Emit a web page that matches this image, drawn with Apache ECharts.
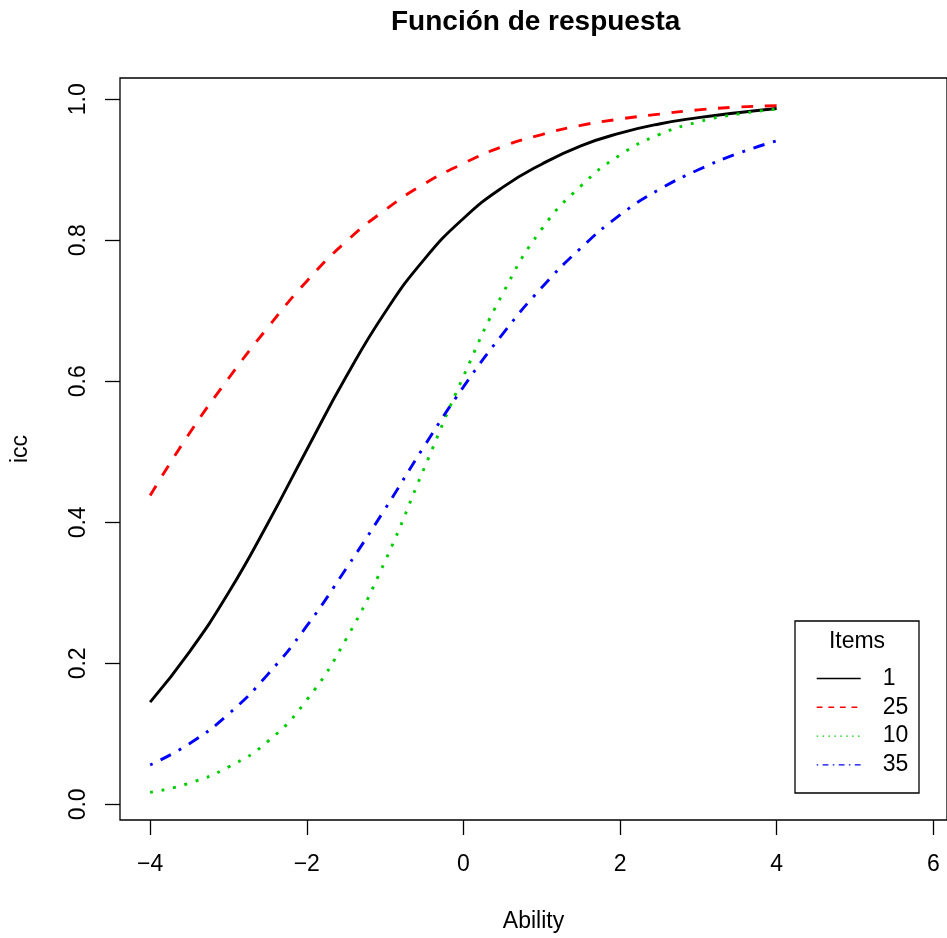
<!DOCTYPE html>
<html><head><meta charset="utf-8">
<script src="https://cdn.jsdelivr.net/npm/echarts@6/dist/echarts.min.js"></script>
<style>html,body{margin:0;padding:0;background:#fff}#c{width:947px;height:938px}</style>
</head><body><div id="c"></div>
<script>
// Ability values (x)
const theta = [-4, -3.5, -3, -2.5, -2, -1.5, -1, -0.5, 0, 0.5, 1, 1.5, 2, 2.5, 3, 3.5, 4];
// ICC values
const item1  = [0.145, 0.216, 0.300, 0.398, 0.503, 0.606, 0.698, 0.773, 0.831, 0.875, 0.908, 0.934, 0.952, 0.965, 0.974, 0.981, 0.987];
const item25 = [0.438, 0.526, 0.604, 0.676, 0.742, 0.798, 0.843, 0.880, 0.909, 0.933, 0.950, 0.963, 0.972, 0.979, 0.985, 0.989, 0.991];
const item10 = [0.017, 0.030, 0.053, 0.089, 0.148, 0.234, 0.345, 0.477, 0.607, 0.724, 0.816, 0.877, 0.921, 0.950, 0.968, 0.979, 0.986];
const item35 = [0.056, 0.086, 0.128, 0.184, 0.253, 0.334, 0.419, 0.508, 0.592, 0.667, 0.733, 0.789, 0.836, 0.872, 0.900, 0.923, 0.941];
const seriesNames = ['1', '25', '10', '35'];
const xTicks = [-4, -2, 0, 2, 4, 6];
const yTicks = [0, 0.2, 0.4, 0.6, 0.8, 1.0];
const titleText = 'Función de respuesta';
const xName = 'Ability';
const yName = 'icc';
const legendTitle = 'Items';

const FONT = '"Liberation Sans", Arial, Helvetica, sans-serif';
const values = [item1, item25, item10, item35];
const colors = ['#000000', '#FF0000', '#00CD00', '#0000FF'];
const dashes = ['solid', [11.7, 11.7], [2.9, 8.8], [2.9, 8.8, 11.7, 8.8]];
const legendDashes = ['solid', [5.8, 5.8], [1.5, 4.4], [1.5, 4.4, 5.8, 4.4]];

const chart = echarts.init(document.getElementById('c'), null, {renderer: 'canvas'});
const option = {
  animation: false,
  backgroundColor: '#ffffff',
  textStyle: {fontFamily: FONT},
  title: {
    text: titleText, left: 391, top: 8, padding: 0,
    textStyle: {fontFamily: FONT, fontSize: 28, fontWeight: 'bold', color: '#000'}
  },
  grid: {
    left: 120, top: 78, width: 830, height: 743,
    show: true, borderColor: '#000', borderWidth: 1.3, backgroundColor: 'transparent'
  },
  xAxis: {
    type: 'value', min: -4.385, max: 6.175,
    name: xName, nameLocation: 'middle', nameGap: 90,
    nameTextStyle: {fontFamily: FONT, fontSize: 23, color: '#000'},
    axisLine: {show: false, onZero: false},
    splitLine: {show: false},
    axisTick: {show: true, inside: false, length: 15, customValues: xTicks, lineStyle: {color: '#000', width: 1.3}},
    axisLabel: {
      customValues: xTicks, margin: 33, fontFamily: FONT, fontSize: 23, color: '#000',
      formatter: v => (v < 0 ? '\u2212' : '') + Math.abs(v)
    }
  },
  yAxis: {
    type: 'value', min: -0.0222, max: 1.0302,
    name: yName, nameLocation: 'middle', nameGap: 88, nameRotate: 90,
    nameTextStyle: {fontFamily: FONT, fontSize: 23, color: '#000'},
    axisLine: {show: false, onZero: false},
    splitLine: {show: false},
    axisTick: {show: true, inside: false, length: 15, customValues: yTicks, lineStyle: {color: '#000', width: 1.3}},
    axisLabel: {
      customValues: yTicks, margin: 30, rotate: 90, fontFamily: FONT, fontSize: 23, color: '#000',
      formatter: v => v.toFixed(1)
    }
  },
  legend: {
    orient: 'vertical', left: 816, top: 667, padding: 0,
    itemWidth: 44, itemHeight: 14, itemGap: 5.8,
    selectedMode: false,
    itemStyle: {opacity: 0},
    textStyle: {fontFamily: FONT, fontSize: 23, color: '#000', lineHeight: 23, padding: [0, 0, 0, 17]},
    data: seriesNames.map((n, i) => ({
      name: n,
      itemStyle: {opacity: 0},
      lineStyle: {width: 1.4, type: legendDashes[i], color: colors[i], cap: 'butt', opacity: 1}
    }))
  },
  graphic: [
    {type: 'rect', shape: {x: 795, y: 621, width: 124, height: 172},
     style: {fill: 'none', stroke: '#000', lineWidth: 1.3}, z: 10},
    {type: 'text', x: 857, y: 642,
     style: {text: legendTitle, fontFamily: FONT, fontSize: 23, fill: '#000', align: 'center', verticalAlign: 'middle'}, z: 10}
  ],
  series: seriesNames.map((n, i) => ({
    name: n, type: 'line',
    data: theta.map((t, j) => [t, values[i][j]]),
    symbol: 'none', showSymbol: false,
    smooth: 0.5,
    itemStyle: {color: colors[i]},
    lineStyle: {color: colors[i], width: 2.9, type: dashes[i], cap: 'butt'},
    emphasis: {disabled: true}
  }))
};
chart.setOption(option);
</script>
</body></html>
